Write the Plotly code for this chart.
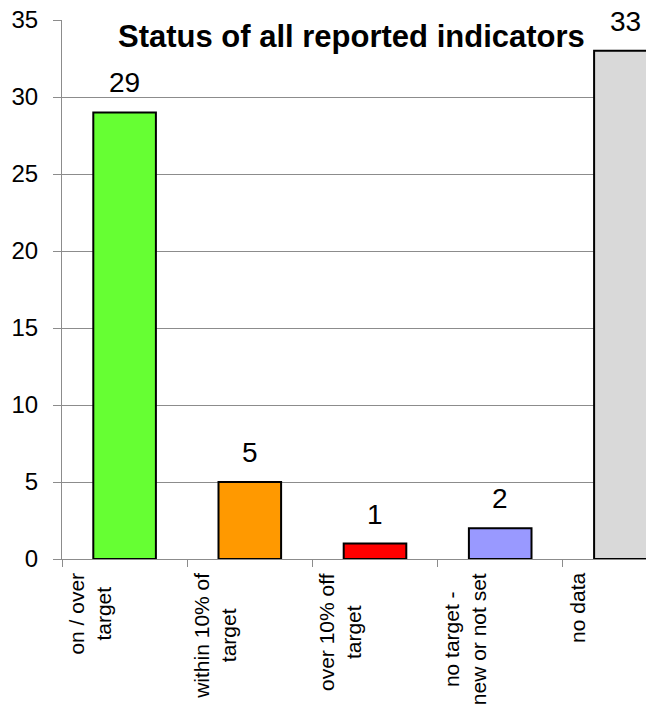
import plotly.graph_objects as go

# Indicator status counts
categories = ["on / over target", "within 10% of target", "over 10% off target",
              "no target - new or not set", "no data"]
label_lines = ["on / over<br>target", "within 10% of<br>target", "over 10% off<br>target",
               "no target -<br>new or not set", "no data"]
counts = [29, 5, 1, 2, 33]
colors = ["#66FF33", "#FF9900", "#FF0000", "#9999FF", "#D9D9D9"]
y_ticks = [0, 5, 10, 15, 20, 25, 30, 35]

FONT = "Arial, 'Liberation Sans', sans-serif"
x_pos = list(range(len(categories)))

fig = go.Figure()
fig.add_trace(go.Bar(
    x=x_pos, y=counts, width=0.5,
    marker=dict(color=colors, line=dict(color="black", width=2)),
    hoverinfo="skip", showlegend=False,
))

# value labels above bars
for xi, v in zip(x_pos, counts):
    fig.add_annotation(x=xi, y=v, xref="x", yref="y", text=str(v), showarrow=False,
                       yanchor="bottom", yshift=12,
                       font=dict(family=FONT, size=28, color="black"))

# rotated category labels
for xi, lab in zip(x_pos, label_lines):
    fig.add_annotation(x=xi, y=0, xref="x", yref="paper", text=lab, showarrow=False,
                       textangle=-90, xanchor="left", yanchor="top",
                       xshift=-62, yshift=-12, align="center",
                       font=dict(family=FONT, size=21, color="black"))

# chart title
fig.add_annotation(x=0.5, y=1, xref="paper", yref="paper",
                   text="<b>Status of all reported indicators</b>", showarrow=False,
                   xshift=-3, yanchor="top", yshift=3,
                   font=dict(family=FONT, size=31, color="black"))

fig.update_layout(
    width=646, height=704,
    margin=dict(l=62, r=0, t=20, b=145),
    paper_bgcolor="white", plot_bgcolor="white",
    font=dict(family=FONT, color="black"),
    bargap=0.5,
)
fig.update_xaxes(
    range=[-0.5, -0.5 + 584 / 125.2],
    tickvals=[i - 0.5 for i in x_pos], ticktext=["" for _ in x_pos],
    ticks="outside", ticklen=7, tickcolor="#8c8c8c", tickwidth=1,
    showline=True, linecolor="#8c8c8c", linewidth=1,
    showgrid=False, zeroline=False, fixedrange=True,
)
fig.update_yaxes(
    range=[0, 35], tickvals=y_ticks,
    ticks="outside", ticklen=8, tickcolor="#8c8c8c", tickwidth=1,
    ticklabelstandoff=10,
    tickfont=dict(family=FONT, size=24, color="black"),
    showline=True, linecolor="#8c8c8c", linewidth=1,
    showgrid=True, gridcolor="#8c8c8c", gridwidth=1,
    zeroline=False, fixedrange=True,
)

fig.write_html("out.html")
